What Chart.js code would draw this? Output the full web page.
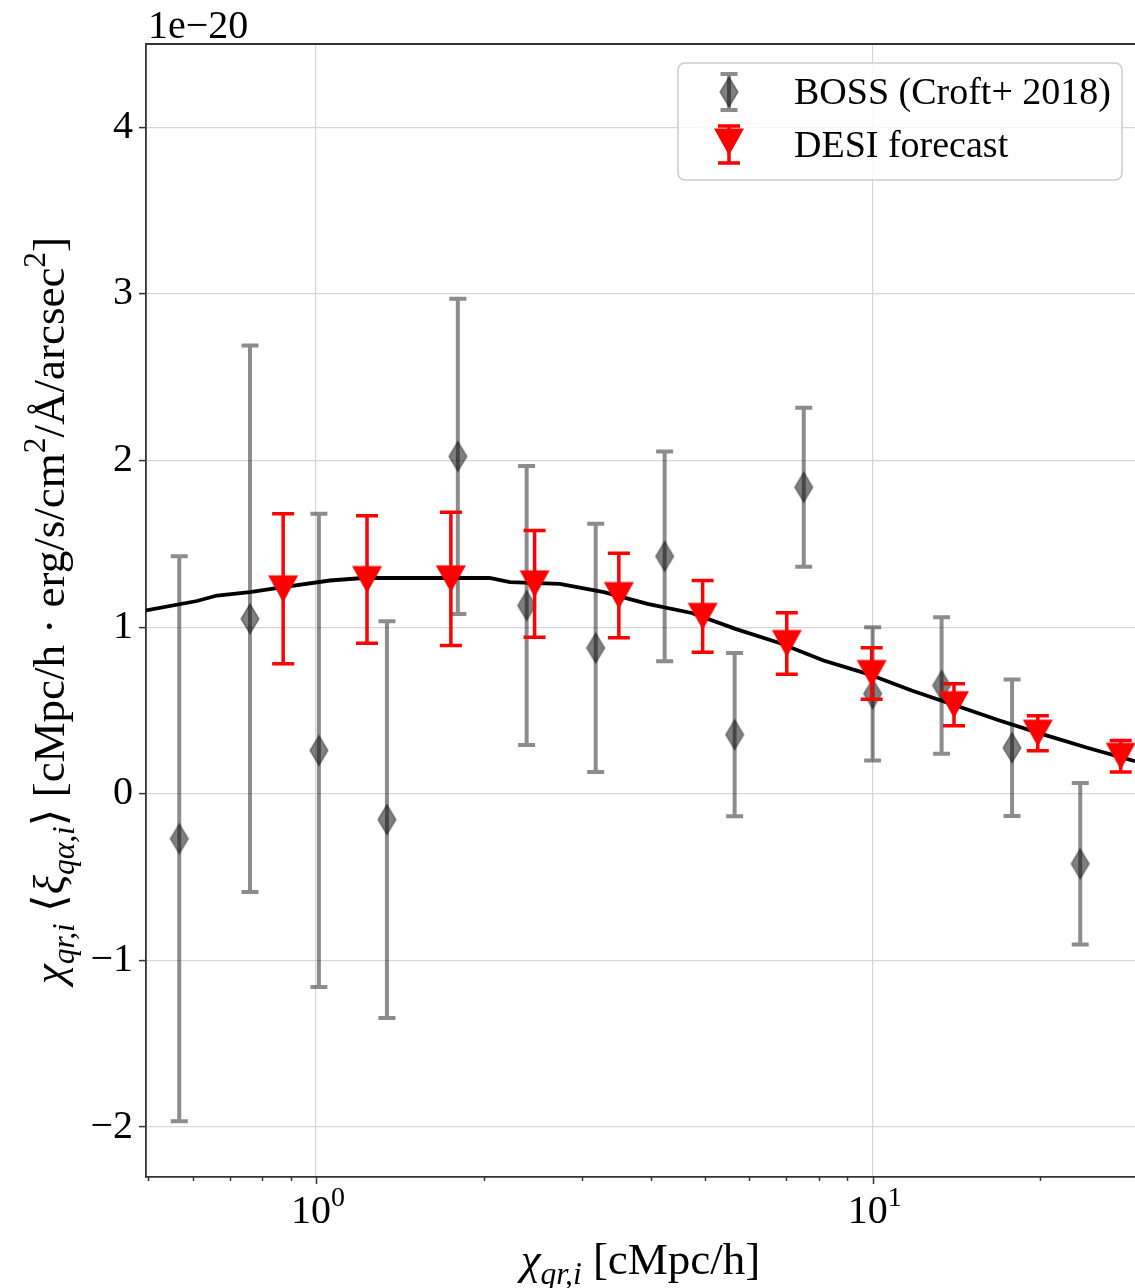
<!DOCTYPE html>
<html>
<head>
<meta charset="utf-8">
<script src="https://cdn.jsdelivr.net/npm/chart.js@4/dist/chart.umd.min.js"></script>
<style>
  html, body { margin: 0; padding: 0; background: #fff; overflow: hidden; }
  canvas { display: block; }
</style>
</head>
<body>
<canvas id="chart" width="1135" height="1288"></canvas>
<script>
// BOSS measurement (Croft+ 2018), in units of 1e-20
const bossX = [0.568, 0.761, 1.012, 1.341, 1.798, 2.39, 3.18, 4.23, 5.65, 7.52, 10.0, 13.3, 17.8, 23.6];
const bossY = [-0.27, 1.05, 0.26, -0.155, 2.025, 1.13, 0.875, 1.425, 0.355, 1.84, 0.60, 0.65, 0.276, -0.42];
const bossErr = [1.695, 1.64, 1.42, 1.19, 0.946, 0.837, 0.745, 0.63, 0.49, 0.477, 0.40, 0.41, 0.41, 0.485];

// DESI forecast
const desiX = [0.873, 1.235, 1.747, 2.47, 3.50, 4.95, 7.01, 9.96, 14.0, 19.8, 27.9];
const desiY = [1.23, 1.286, 1.29, 1.26, 1.19, 1.065, 0.902, 0.722, 0.535, 0.364, 0.225];
const desiErr = [0.45, 0.383, 0.40, 0.32, 0.254, 0.215, 0.185, 0.155, 0.126, 0.105, 0.095];

// model curve
const modelX = [0.495, 0.611, 0.664, 0.761, 0.873, 1.059, 1.214, 2.05, 2.23, 2.74, 3.29, 3.94,
  4.73, 5.67, 6.80, 8.16, 9.79, 11.75, 14.1, 16.9, 20.3, 24.3, 29.6];
const modelY = [1.10, 1.157, 1.19, 1.21, 1.24, 1.28, 1.295, 1.295, 1.27, 1.26, 1.21, 1.14,
  1.085, 0.99, 0.905, 0.80, 0.72, 0.62, 0.53, 0.44, 0.355, 0.276, 0.195];

const yTicks = [-2, -1, 0, 1, 2, 3, 4];
const xMajor = [1, 10];
const xMinor = [0.5, 0.6, 0.7, 0.8, 0.9, 2, 3, 4, 5, 6, 7, 8, 9, 20];

const SERIF = "'Liberation Serif', 'DejaVu Serif', serif";
const FS = 40;        // tick labels
const FS_TITLE = 45;  // axis titles
const FS_LEGEND = 38;
const RED = '#ff0000';
const BAR_GREY = 'rgba(0,0,0,0.45)';

const diamond = (() => {
  const c = document.createElement('canvas');
  c.width = 24; c.height = 36;
  const g = c.getContext('2d');
  g.beginPath();
  g.moveTo(12, 3); g.lineTo(21, 18); g.lineTo(12, 33); g.lineTo(3, 18); g.closePath();
  g.fillStyle = 'rgba(0,0,0,0.5)';
  g.fill();
  g.lineWidth = 1.5;
  g.strokeStyle = 'rgba(0,0,0,0.35)';
  g.stroke();
  return c;
})();

const triangleDown = (() => {
  const c = document.createElement('canvas');
  c.width = 32; c.height = 30;
  const g = c.getContext('2d');
  g.beginPath();
  g.moveTo(1, 1.5); g.lineTo(31, 1.5); g.lineTo(16, 28.5); g.closePath();
  g.fillStyle = RED;
  g.fill();
  return c;
})();

// mixed-style text: segments of {t, it, lvl} where lvl -1 = subscript, 1 = superscript
function segFont(s, size) {
  const sz = s.lvl ? size * 0.7 : size;
  return (s.it ? 'italic ' : '') + sz + 'px ' + SERIF;
}
function richWidth(ctx, segs, size) {
  let w = 0;
  segs.forEach((s) => { ctx.font = segFont(s, size); w += ctx.measureText(s.t).width; });
  return w;
}
function richDraw(ctx, segs, size, x, y) {
  ctx.textBaseline = 'alphabetic';
  ctx.textAlign = 'left';
  let cx = x;
  segs.forEach((s) => {
    ctx.font = segFont(s, size);
    const dy = s.lvl === -1 ? size * 0.22 : s.lvl === 1 ? -size * 0.42 : 0;
    ctx.fillText(s.t, cx, y + dy);
    cx += ctx.measureText(s.t).width;
  });
}

const xTitle = [
  { t: 'χ', it: true }, { t: 'qr,i', it: true, lvl: -1 }, { t: ' [cMpc/h]' },
];
const yTitle = [
  { t: 'χ', it: true }, { t: 'qr,i', it: true, lvl: -1 }, { t: ' ⟨' },
  { t: 'ξ', it: true }, { t: 'qα,i', it: true, lvl: -1 }, { t: '⟩ [cMpc/h · erg/s/cm' },
  { t: '2', lvl: 1 }, { t: '/Å/arcsec' }, { t: '2', lvl: 1 }, { t: ']' },
];

function errorBar(ctx, x, yTop, yBot, cap) {
  ctx.beginPath();
  ctx.moveTo(x, yTop); ctx.lineTo(x, yBot);
  ctx.moveTo(x - cap / 2, yTop); ctx.lineTo(x + cap / 2, yTop);
  ctx.moveTo(x - cap / 2, yBot); ctx.lineTo(x + cap / 2, yBot);
  ctx.stroke();
}

const errorBars = {
  id: 'errorBars',
  beforeDatasetDraw(chart, args) {
    const ds = chart.data.datasets[args.index];
    if (!ds.errors) { return; }
    const { ctx, scales: { x, y } } = chart;
    ctx.save();
    ctx.beginPath();
    ctx.rect(chart.chartArea.left, chart.chartArea.top, chart.chartArea.width, chart.chartArea.height);
    ctx.clip();
    ctx.strokeStyle = ds.errColor;
    ctx.lineWidth = ds.errWidth;
    ds.data.forEach((p, i) => {
      const e = ds.errors[i];
      errorBar(ctx, x.getPixelForValue(p.x), y.getPixelForValue(p.y + e), y.getPixelForValue(p.y - e), ds.capSize);
    });
    ctx.restore();
  },
};

const decorations = {
  id: 'decorations',
  afterDraw(chart) {
    const { ctx, chartArea: a, scales: { x } } = chart;
    ctx.save();
    ctx.fillStyle = '#000';
    ctx.strokeStyle = '#333';

    // frame top edge
    ctx.lineWidth = 1.8;
    ctx.beginPath();
    ctx.moveTo(a.left, a.top); ctx.lineTo(a.right, a.top);
    ctx.stroke();

    // x tick marks, major and minor
    ctx.lineWidth = 1.5;
    xMajor.concat(xMinor).forEach((v) => {
      const px = Math.round(x.getPixelForValue(v)) + 0.5;
      const len = xMajor.includes(v) ? 7 : 4;
      ctx.beginPath();
      ctx.moveTo(px, a.bottom); ctx.lineTo(px, a.bottom + len);
      ctx.stroke();
    });

    // x tick labels as powers of ten
    xMajor.forEach((v) => {
      const segs = [{ t: '10' }, { t: String(Math.round(Math.log10(v))), lvl: 1 }];
      const w = richWidth(ctx, segs, FS);
      richDraw(ctx, segs, FS, x.getPixelForValue(v) - w / 2 + 2, 1223);
    });

    // offset text
    ctx.font = FS + 'px ' + SERIF;
    ctx.fillText('1e−20', 148, 38);

    // axis titles
    const xw = richWidth(ctx, xTitle, FS_TITLE);
    richDraw(ctx, xTitle, FS_TITLE, (a.left + a.right) / 2 - xw / 2, 1274);
    const yw = richWidth(ctx, yTitle, FS_TITLE);
    ctx.save();
    ctx.translate(64, (a.top + a.bottom) / 2);
    ctx.rotate(-Math.PI / 2);
    richDraw(ctx, yTitle, FS_TITLE, -yw / 2, 0);
    ctx.restore();

    // legend
    const lx = 678, ly = 63, lw = 444, lh = 117, r = 7;
    ctx.beginPath();
    ctx.roundRect(lx, ly, lw, lh, r);
    ctx.fillStyle = 'rgba(255,255,255,0.85)';
    ctx.fill();
    ctx.strokeStyle = '#cccccc';
    ctx.lineWidth = 1.5;
    ctx.stroke();

    ctx.strokeStyle = BAR_GREY;
    ctx.lineWidth = 4;
    errorBar(ctx, 729, 74, 110, 17);
    ctx.drawImage(diamond, 729 - diamond.width / 2, 92 - diamond.height / 2);
    ctx.strokeStyle = RED;
    ctx.lineWidth = 3.5;
    errorBar(ctx, 729, 126, 163, 22);
    ctx.drawImage(triangleDown, 729 - triangleDown.width / 2, 142 - triangleDown.height / 2);

    ctx.fillStyle = '#000';
    ctx.font = FS_LEGEND + 'px ' + SERIF;
    ctx.textAlign = 'left';
    ctx.textBaseline = 'alphabetic';
    ctx.fillText('BOSS (Croft+ 2018)', 794, 104);
    ctx.fillText('DESI forecast', 794, 157);
    ctx.restore();
  },
};

const pts = (xs, ys) => xs.map((v, i) => ({ x: v, y: ys[i] }));

new Chart(document.getElementById('chart'), {
  type: 'scatter',
  data: {
    datasets: [
      {
        label: 'BOSS (Croft+ 2018)',
        data: pts(bossX, bossY),
        errors: bossErr,
        errColor: BAR_GREY,
        errWidth: 4,
        capSize: 17,
        pointStyle: diamond,
        pointRadius: 12,
        order: 3,
      },
      {
        type: 'line',
        label: 'model',
        data: pts(modelX, modelY),
        borderColor: '#000',
        borderWidth: 3.8,
        pointRadius: 0,
        tension: 0,
        fill: false,
        order: 2,
      },
      {
        label: 'DESI forecast',
        data: pts(desiX, desiY),
        errors: desiErr,
        errColor: RED,
        errWidth: 3.5,
        capSize: 22,
        pointStyle: triangleDown,
        pointRadius: 15,
        order: 1,
      },
    ],
  },
  options: {
    responsive: false,
    devicePixelRatio: 1,
    animation: false,
    layout: { autoPadding: false, padding: { top: 44, left: 0, right: 0, bottom: 0 } },
    plugins: { legend: { display: false }, tooltip: { enabled: false } },
    scales: {
      x: {
        type: 'logarithmic',
        min: 0.495,
        max: 29.6,
        afterBuildTicks: (s) => { s.ticks = xMajor.map((v) => ({ value: v })); },
        afterFit: (s) => { s.height = 111; },
        ticks: { display: false },
        grid: { color: '#d6d6d6', lineWidth: 1.2, drawTicks: false },
        border: { display: true, color: '#333', width: 1.8 },
      },
      y: {
        type: 'linear',
        min: -2.3,
        max: 4.5,
        afterBuildTicks: (s) => { s.ticks = yTicks.map((v) => ({ value: v })); },
        afterFit: (s) => { s.width = 146; },
        ticks: {
          color: '#000',
          padding: 6,
          font: { family: SERIF, size: FS },
          callback: (v) => (v < 0 ? '−' + Math.abs(v) : String(v)),
        },
        grid: { color: '#d6d6d6', lineWidth: 1.2, tickLength: 7, tickColor: '#333', tickWidth: 1.5 },
        border: { display: true, color: '#333', width: 1.8 },
      },
    },
  },
  plugins: [errorBars, decorations],
});
</script>
</body>
</html>
